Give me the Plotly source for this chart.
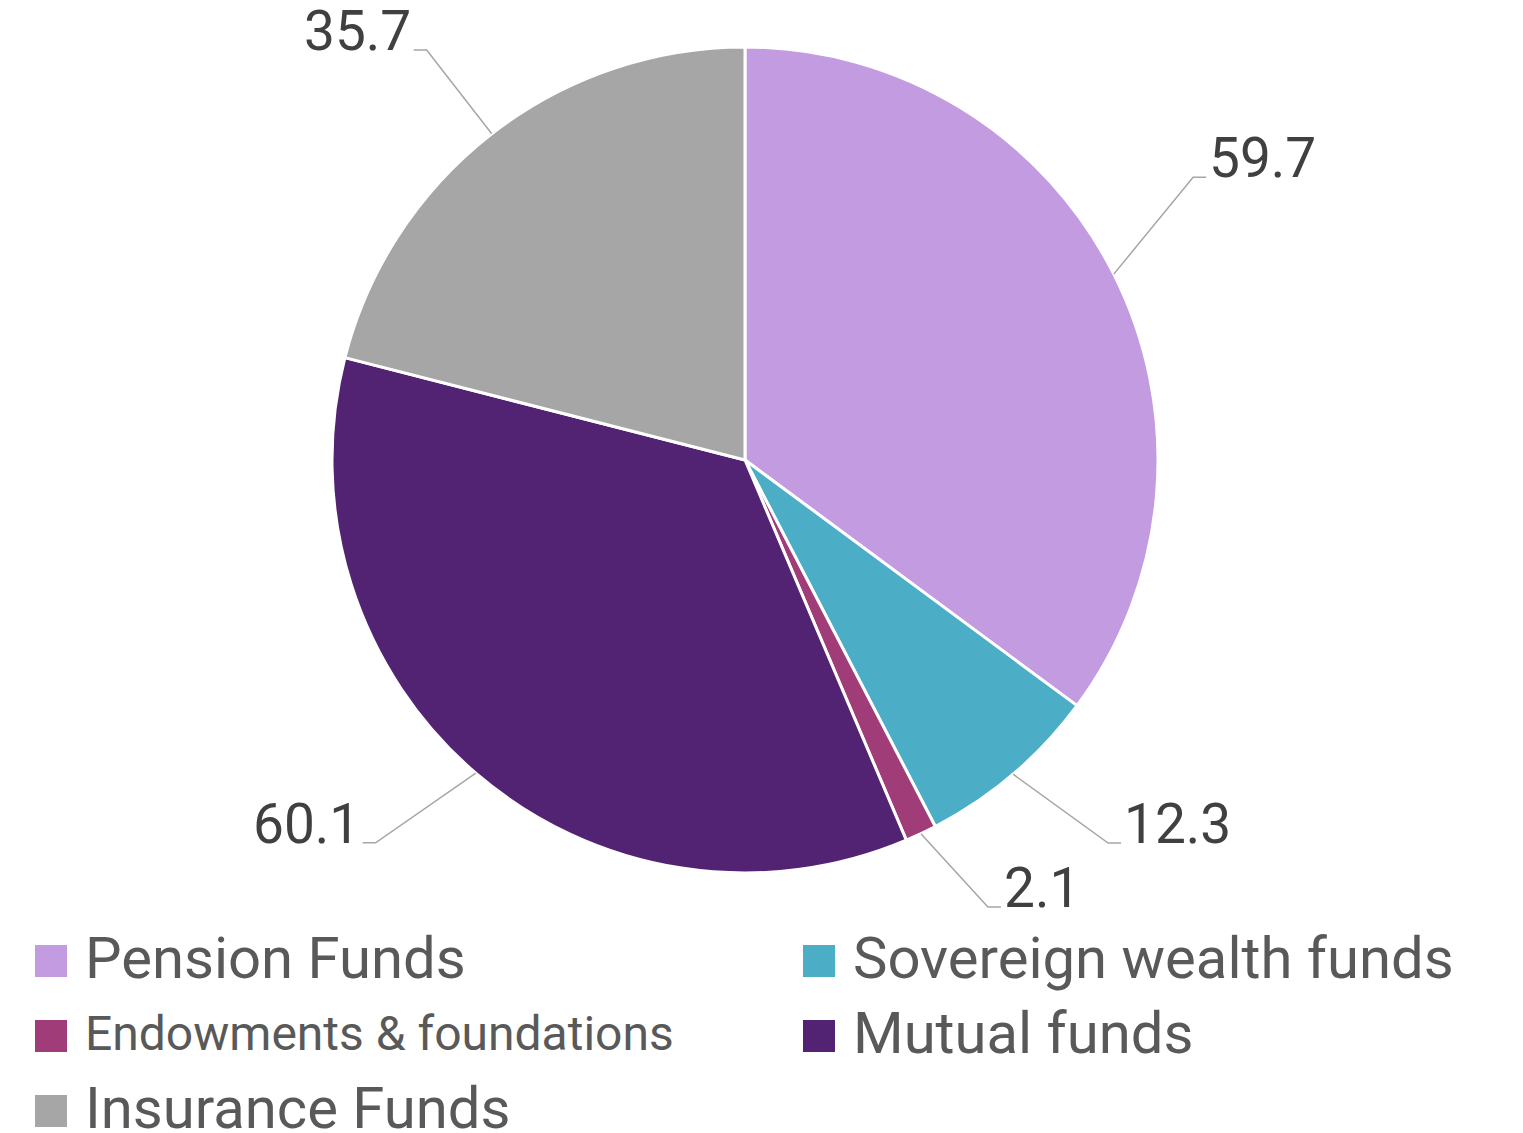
import math
import plotly.graph_objects as go

# ---- data ----
categories = ["Pension Funds", "Sovereign wealth funds", "Endowments & foundations",
              "Mutual funds", "Insurance Funds"]
values = [59.7, 12.3, 2.1, 60.1, 35.7]
value_labels = ["59.7", "12.3", "2.1", "60.1", "35.7"]
colors = ["#C39BE0", "#4BADC6", "#A03C78", "#532373", "#A6A6A6"]

# ---- layout constants (page pixels) ----
PAGE_OFF = 8                      # default body margin of the html page
W, H = 1523 - PAGE_OFF, 1133 - PAGE_OFF
CX, CY, R = 745, 460, 413          # pie centre / radius in page pixels
FONT = "Roboto, 'Open Sans', sans-serif"
# label placement tweaks (angle offset in degrees, radius factor), like Excel's best-fit
label_tweak = [(-5.5, 1.283), (-3.0, 1.278), (-3.3, 1.232), (3.3, 1.288), (0.0, 1.257)]


def px(x):
    return (x - PAGE_OFF) / W


def py(y):
    return 1 - (y - PAGE_OFF) / H


fig = go.Figure()
fig.add_trace(go.Pie(
    labels=categories,
    values=values,
    marker=dict(colors=colors, line=dict(color="white", width=3)),
    sort=False,
    direction="clockwise",
    rotation=0,
    textinfo="none",
    hoverinfo="label+value",
    showlegend=False,
    domain=dict(x=[px(CX - R), px(CX + R)], y=[py(CY + R), py(CY - R)]),
))

# leader lines and outside labels computed from the slice angles
total = sum(values)
cum = 0.0
shapes = []
annotations = []
for v, lab, (dth, k) in zip(values, value_labels, label_tweak):
    mid = (cum + v / 2) / total * 2 * math.pi
    cum += v
    sx, sy = math.sin(mid), -math.cos(mid)
    x1, y1 = CX + R * sx, CY + R * sy
    el = mid + math.radians(dth)
    x2, y2 = CX + k * R * math.sin(el), CY - k * R * math.cos(el)
    side = 1 if sx >= 0 else -1
    x3 = x2 + 13 * side
    shapes.append(dict(
        type="path", xref="paper", yref="paper",
        path=f"M {px(x1)},{py(y1)} L {px(x2)},{py(y2)} L {px(x3)},{py(y2)}",
        line=dict(color="#A6A6A6", width=1.5),
    ))
    annotations.append(dict(
        x=px(x3 + 1 * side), y=py(y2), xref="paper", yref="paper",
        text=lab, showarrow=False,
        xanchor="left" if side > 0 else "right", yanchor="middle", yshift=19,
        font=dict(family=FONT, size=55, color="#404040"),
    ))

# legend: two columns of square swatches with category names
LEG_X = [35, 803]
LEG_Y0, LEG_DY, SW = 961, 75, 32
for i, (name, col) in enumerate(zip(categories, colors)):
    cx = LEG_X[i % 2]
    cy = LEG_Y0 + LEG_DY * (i // 2)
    shapes.append(dict(
        type="rect", xref="paper", yref="paper",
        x0=px(cx), x1=px(cx + SW), y0=py(cy + SW / 2), y1=py(cy - SW / 2),
        fillcolor=col, line=dict(width=0),
    ))
    annotations.append(dict(
        x=px(cx + SW + 16), y=py(cy - 3), xref="paper", yref="paper",
        text=name, showarrow=False, xanchor="left", yanchor="middle",
        font=dict(family=FONT, size=48 if name.startswith("Endow") else 58,
                  color="#595959"),
    ))

fig.update_layout(
    width=W, height=H,
    margin=dict(l=0, r=0, t=0, b=0),
    paper_bgcolor="white", plot_bgcolor="white",
    shapes=shapes, annotations=annotations,
    showlegend=False,
    font=dict(family=FONT),
)

fig.write_html("out.html")
